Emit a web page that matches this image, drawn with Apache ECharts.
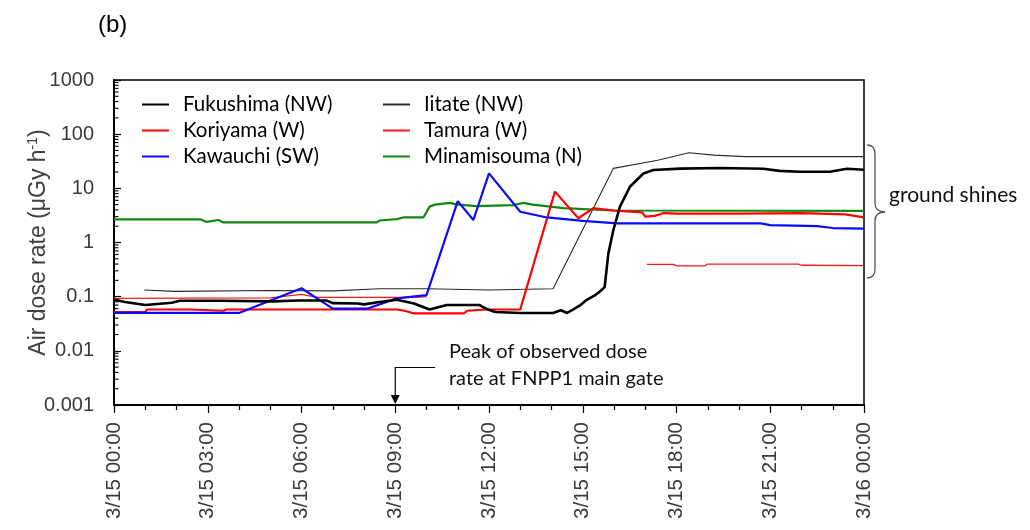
<!DOCTYPE html>
<html>
<head>
<meta charset="utf-8">
<script src="https://cdn.jsdelivr.net/npm/echarts@6/dist/echarts.min.js"></script>
<style>
html,body{margin:0;padding:0;background:#fff;}
#chart{width:1030px;height:530px;}
</style>
</head>
<body>
<div id="chart"></div>
<script>
// ---- tick labels ----
const xTickLabels = ['3/15 00:00','3/15 03:00','3/15 06:00','3/15 09:00','3/15 12:00','3/15 15:00','3/15 18:00','3/15 21:00','3/16 00:00'];
const yTickLabels = ['0.001','0.01','0.1','1','10','100','1000'];

// ---- series: [hours since 3/15 00:00, dose rate µGy/h] ----
const fukushima = [[0,0.089],[0.35,0.08],[1.0,0.07],[1.85,0.077],[2.1,0.084],[3.4,0.084],[5.1,0.082],[5.9,0.085],[6.8,0.085],[7.0,0.076],[7.8,0.075],[8.0,0.072],[8.5,0.08],[9.05,0.088],[9.6,0.075],[10.1,0.058],[10.65,0.07],[11.7,0.07],[11.9,0.06],[12.2,0.052],[13.0,0.05],[14.05,0.05],[14.3,0.056],[14.5,0.05],[14.7,0.058],[14.9,0.068],[15.1,0.085],[15.4,0.107],[15.55,0.125],[15.7,0.15],[15.82,0.63],[15.98,1.7],[16.19,4.6],[16.51,10.7],[16.94,18.8],[17.26,21.8],[18.11,23.1],[19.39,23.8],[20.78,23],[21.3,21],[21.95,20.3],[22.91,20.3],[23.45,23],[24,22]];
const iitate = [[0.97,0.133],[1.95,0.125],[5.0,0.13],[7.0,0.128],[8.5,0.14],[10.0,0.14],[12.0,0.133],[14.05,0.14],[15.98,23.4],[17.4,33],[18.4,45.5],[19.2,41],[20.2,38.5],[24,38.5]];
const koriyama = [[0,0.052],[1.0,0.052],[1.06,0.058],[2.45,0.058],[2.5,0.055],[3.5,0.055],[3.6,0.058],[9.05,0.058],[9.3,0.055],[9.6,0.049],[11.2,0.049],[11.3,0.055],[11.9,0.058],[13.0,0.058],[14.11,8.7],[14.86,2.8],[15.34,4.3],[15.98,3.9],[16.9,3.6],[17.0,3.0],[17.3,3.1],[17.6,3.5],[18.0,3.4],[20.0,3.4],[22.0,3.5],[23.4,3.3],[24,2.9]];
const tamura = [[0,0.093],[5.0,0.095],[6.0,0.11],[6.5,0.097],[9.7,0.097],[10.0,0.1],[10.05,null],[17.05,0.395],[17.9,0.395],[18.0,0.37],[18.9,0.37],[19.0,0.4],[21.9,0.4],[22.0,0.38],[24,0.375]];
const kawauchi = [[0,0.05],[4.0,0.05],[6.0,0.143],[7.0,0.06],[8.1,0.06],[9.05,0.093],[10.0,0.107],[11.0,5.8],[11.5,2.6],[12.0,18.9],[13.0,3.7],[13.85,2.9],[15.0,2.5],[16.1,2.25],[20.7,2.25],[21.0,2.1],[22.5,2.0],[23.0,1.85],[24,1.8]];
const minamisouma = [[0,2.68],[2.75,2.68],[2.97,2.4],[3.34,2.6],[3.5,2.35],[8.4,2.35],[8.5,2.55],[9.05,2.7],[9.26,2.9],[9.9,2.9],[9.95,3.1],[10.1,4.6],[10.27,5.0],[10.75,5.4],[11.0,5.0],[11.6,4.7],[12.77,4.9],[13.1,5.4],[13.4,5.0],[14.38,4.3],[15.98,3.9],[24,3.85]];

const seriesNames = ['Fukushima (NW)','Iitate (NW)','Koriyama (W)','Tamura (W)','Kawauchi (SW)','Minamisouma (N)'];

function toData(arr){ return arr.map(p => [p[0], p[1] === null ? '-' : p[1]]); }

// log minor tick positions (axis decoration)
const yMinor = [];
for (let e = -3; e <= 2; e++) for (let m = 2; m <= 9; m++) yMinor.push([0, m * Math.pow(10, e)]);

const chart = echarts.init(document.getElementById('chart'), null, {renderer:'canvas', width:1030, height:530});

const lineSeries = (name, data, color, width, z) => ({
  name, type:'line', data: toData(data), showSymbol:false, symbol:'none',
  lineStyle:{color, width}, itemStyle:{color}, z: z, connectNulls:false, animation:false
});

const legendText = {fontFamily:'Lato', fontSize:20.5, color:'#000', padding:[0,0,0,9], lineHeight:20};
const legendBase = {orient:'vertical', top:89, itemWidth:27, itemHeight:14, itemGap:5, textStyle:legendText, itemStyle:{opacity:0, borderWidth:0}};

chart.setOption({
  animation:false,
  grid:{left:114, right:166, top:80, bottom:125, show:true, borderColor:'#000', borderWidth:1.5, containLabel:false},
  legend:[
    Object.assign({data:[seriesNames[0],seriesNames[2],seriesNames[4]], left:136}, legendBase),
    Object.assign({data:[seriesNames[1],seriesNames[3],seriesNames[5]], left:377}, legendBase)
  ],
  xAxis:{
    type:'value', min:0, max:24, interval:3,
    axisLine:{show:true, lineStyle:{color:'#000', width:2}},
    axisTick:{show:true, inside:false, length:8, lineStyle:{color:'#000', width:1.2}},
    minorTick:{show:true, splitNumber:3, length:5, lineStyle:{color:'#000', width:1.2}},
    splitLine:{show:false},
    axisLabel:{rotate:90, margin:17, fontFamily:'Liberation Sans', fontSize:20.5, color:'#3a3a3a',
      formatter: v => xTickLabels[Math.round(v/3)]}
  },
  yAxis:{
    type:'log', logBase:10, min:0.001, max:1000,
    name:'Air dose rate (\u03BCGy h{sup|-1})', nameLocation:'middle', nameGap:62, nameMoveOverlap:false,
    nameTextStyle:{fontFamily:'Liberation Sans', fontSize:23, color:'#404040',
      rich:{sup:{fontFamily:'Liberation Sans', fontSize:14, color:'#404040', verticalAlign:'top', padding:[0,0,12,0]}}},
    axisLine:{show:true, lineStyle:{color:'#000', width:2}},
    axisTick:{show:true, inside:true, length:7, lineStyle:{color:'#000', width:1.2}},
    splitLine:{show:false},
    axisLabel:{margin:20, fontFamily:'Liberation Sans', fontSize:20, color:'#3a3a3a',
      formatter: v => yTickLabels[Math.round(Math.log10(v)) + 3]}
  },
  series:[
    {type:'custom', name:'yminor', data:yMinor, silent:true, clip:false, z:1,
      encode:{x:0, y:1},
      renderItem:(params, api) => {
        const p = api.coord([0, api.value(1)]);
        return {type:'line', shape:{x1:p[0], y1:p[1], x2:p[0]+4.5, y2:p[1]}, style:{stroke:'#000', lineWidth:1.1}};
      }},
    lineSeries(seriesNames[3], tamura, '#ff1a1a', 1.3, 2),
    lineSeries(seriesNames[1], iitate, '#2a2a2a', 1.1, 3),
    lineSeries(seriesNames[5], minamisouma, '#118811', 2.2, 4),
    lineSeries(seriesNames[2], koriyama, '#ff0000', 2.2, 5),
    lineSeries(seriesNames[4], kawauchi, '#0a0aff', 2.2, 6),
    lineSeries(seriesNames[0], fukushima, '#000000', 2.6, 7)
  ]
});

// annotations
const px9 = chart.convertToPixel({xAxisIndex:0}, 9);
const yBot = chart.convertToPixel({yAxisIndex:0}, 0.001);
const annoFont = {fontFamily:'Lato', fontSize:20, fill:'#111'};
const braceStyle = {stroke:'#555', lineWidth:1.3, fill:null};
chart.setOption({
  graphic:[
    {type:'text', x:98, y:13, style:{text:'(b)', fontFamily:'Liberation Sans', fontSize:24, fill:'#000'}, z:100},
    {type:'polyline', shape:{points:[[px9+40, 367.5],[px9, 367.5],[px9, yBot-8]]}, style:{stroke:'#000', lineWidth:1.2, fill:null}, z:100},
    {type:'polygon', shape:{points:[[px9-4.5, yBot-10],[px9+4.5, yBot-10],[px9, yBot-1]]}, style:{fill:'#000'}, z:100},
    {type:'text', x:449, y:352, style:Object.assign({text:'Peak of observed dose', verticalAlign:'middle'}, annoFont), z:100},
    {type:'text', x:449, y:379, style:Object.assign({text:'rate at FNPP1 main gate', verticalAlign:'middle'}, annoFont), z:100},
    {type:'bezierCurve', shape:{x1:867, y1:145, x2:875, y2:154, cpx1:875, cpy1:145}, style:braceStyle, z:100},
    {type:'line', shape:{x1:875, y1:154, x2:875, y2:203}, style:braceStyle, z:100},
    {type:'bezierCurve', shape:{x1:875, y1:203, x2:885, y2:212, cpx1:875, cpy1:212}, style:braceStyle, z:100},
    {type:'bezierCurve', shape:{x1:885, y1:212, x2:875, y2:221, cpx1:875, cpy1:212}, style:braceStyle, z:100},
    {type:'line', shape:{x1:875, y1:221, x2:875, y2:269}, style:braceStyle, z:100},
    {type:'bezierCurve', shape:{x1:875, y1:269, x2:867, y2:278, cpx1:875, cpy1:278}, style:braceStyle, z:100},
    {type:'text', x:889, y:195, style:{text:'ground shines', verticalAlign:'middle', fontFamily:'Lato', fontSize:21, fill:'#111'}, z:100}
  ]
});
</script>
</body>
</html>
